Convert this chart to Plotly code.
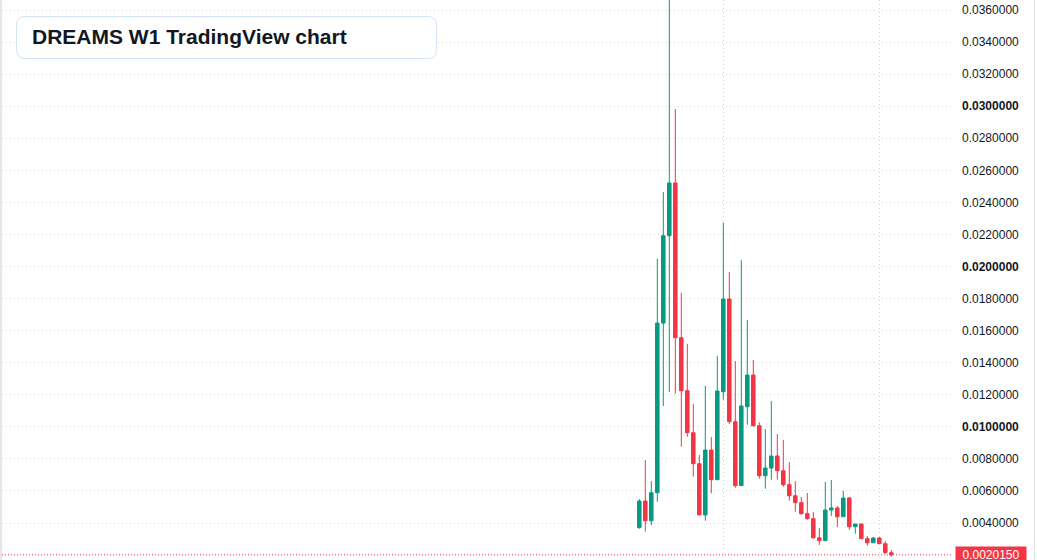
import plotly.graph_objects as go

# Weekly candles (index = week number)
weeks = list(range(43))
opens = [0.00371, 0.00537, 0.00414, 0.00589, 0.01647, 0.02192, 0.02521, 0.01556, 0.01225, 0.00963,
         0.00770, 0.00450, 0.00855, 0.00670, 0.01219, 0.01797, 0.01032, 0.00633, 0.01125, 0.01323,
         0.01007, 0.00695, 0.00743, 0.00818, 0.00726, 0.00639, 0.00570, 0.00527, 0.00458, 0.00427,
         0.00308, 0.00290, 0.00481, 0.00494, 0.00439, 0.00556, 0.00377, 0.00394, 0.00302, 0.00277,
         0.00306, 0.00271, 0.00215]
highs = [0.00550, 0.00793, 0.00662, 0.02049, 0.02465, 0.03800, 0.02982, 0.01835, 0.01517, 0.01142,
         0.00824, 0.01255, 0.00936, 0.01442, 0.02273, 0.01966, 0.01410, 0.02040, 0.01666, 0.01417,
         0.01028, 0.00986, 0.01161, 0.00955, 0.00918, 0.00780, 0.00662, 0.00562, 0.00587, 0.00469,
         0.00369, 0.00656, 0.00668, 0.00506, 0.00600, 0.00562, 0.00394, 0.00394, 0.00319, 0.00313,
         0.00313, 0.00288, 0.00232]
lows = [0.00364, 0.00346, 0.00387, 0.00533, 0.01130, 0.01217, 0.01207, 0.00876, 0.00938, 0.00689,
        0.00450, 0.00414, 0.00585, 0.00670, 0.01169, 0.01016, 0.00620, 0.00633, 0.01013, 0.01001,
        0.00676, 0.00614, 0.00670, 0.00670, 0.00626, 0.00539, 0.00470, 0.00452, 0.00420, 0.00302,
        0.00263, 0.00290, 0.00444, 0.00375, 0.00439, 0.00358, 0.00333, 0.00302, 0.00259, 0.00277,
        0.00271, 0.00208, 0.00190]
closes = [0.00537, 0.00414, 0.00589, 0.01647, 0.02192, 0.02521, 0.01556, 0.01225, 0.00963, 0.00770,
          0.00450, 0.00855, 0.00670, 0.01223, 0.01797, 0.01032, 0.00633, 0.01130, 0.01323, 0.01007,
          0.00695, 0.00743, 0.00818, 0.00726, 0.00639, 0.00570, 0.00527, 0.00458, 0.00427, 0.00308,
          0.00290, 0.00481, 0.00494, 0.00439, 0.00556, 0.00377, 0.00394, 0.00302, 0.00277, 0.00306,
          0.00271, 0.00215, 0.002015]

last_price = 0.002015
last_label = "0.0020150"
tick_values = [0.004, 0.006, 0.008, 0.010, 0.012, 0.014, 0.016, 0.018, 0.020, 0.022,
               0.024, 0.026, 0.028, 0.030, 0.032, 0.034, 0.036]
bold_ticks = [0.010, 0.020, 0.030]
time_grid = [14, 40]
title_text = "DREAMS W1 TradingView chart"

UP = "#089981"
DOWN = "#F23645"
W, H = 1037, 560
ML, MR = 2, 85
PW = W - ML - MR

def px(x):
    return (x - ML) / PW

def py(y):
    return 1 - y / H

tick_text = []
for v in tick_values:
    s = f"{v:.7f}"
    if any(abs(v - b) < 1e-9 for b in bold_ticks):
        s = f"<b>{s}</b>"
    tick_text.append(s)

fig = go.Figure()
fig.add_trace(go.Candlestick(
    x=weeks, open=opens, high=highs, low=lows, close=closes,
    increasing=dict(line=dict(color=UP, width=1), fillcolor=UP),
    decreasing=dict(line=dict(color=DOWN, width=1), fillcolor=DOWN),
    whiskerwidth=0, hoverinfo="skip", showlegend=False,
))

a = -(639.3 - ML) / 6.0
b = a + PW / 6.0

fig.update_layout(
    width=W, height=H,
    margin=dict(l=ML, r=MR, t=0, b=0),
    paper_bgcolor="white", plot_bgcolor="white",
    boxgap=0.16,
    xaxis=dict(range=[a, b], rangeslider=dict(visible=False), showticklabels=False,
               tickvals=time_grid, showgrid=True, gridcolor="#d4d4d4", griddash="1px,3px",
               gridwidth=1, zeroline=False, showline=False, ticks=""),
    yaxis=dict(range=[0.001692, 0.0366238], side="right", tickvals=tick_values,
               ticktext=tick_text, showgrid=True, gridcolor="#d4d4d4", griddash="1px,3px",
               gridwidth=1, zeroline=False, showline=False, ticks="", ticklabelstandoff=9,
               tickfont=dict(family="Liberation Sans, Arial, sans-serif", size=12, color="#131722")),
    font=dict(family="Liberation Sans, Arial, sans-serif"),
)

# last price dotted line
fig.add_shape(type="line", xref="paper", yref="y", x0=0, x1=1, y0=last_price, y1=last_price,
              line=dict(color=DOWN, width=1, dash="1px,2px"))

# left gray edge and right border
fig.add_shape(type="rect", xref="paper", yref="paper", x0=px(0), x1=px(2), y0=0, y1=1,
              fillcolor="#e6e6e6", line=dict(width=0), layer="above")
fig.add_shape(type="line", xref="paper", yref="paper", x0=px(1034.5), x1=px(1034.5), y0=0, y1=1,
              line=dict(color="#e3e3e3", width=1), layer="above")

# title box (rounded)
x0, x1, y0, y1, r = 16.5, 436.5, 16.5, 58.5, 9
rx, ry = r / PW, r / H
X0, X1, Y0, Y1 = px(x0), px(x1), py(y0), py(y1)
path = (f"M {X0+rx},{Y0} L {X1-rx},{Y0} Q {X1},{Y0} {X1},{Y0-ry} "
        f"L {X1},{Y1+ry} Q {X1},{Y1} {X1-rx},{Y1} L {X0+rx},{Y1} Q {X0},{Y1} {X0},{Y1+ry} "
        f"L {X0},{Y0-ry} Q {X0},{Y0} {X0+rx},{Y0} Z")
fig.add_shape(type="path", xref="paper", yref="paper", path=path,
              fillcolor="white", line=dict(color="#d3e2f6", width=1), layer="above")
fig.add_annotation(xref="paper", yref="paper", x=px(30), y=py(37), xanchor="left", yanchor="middle",
                   text=f"<b>{title_text}</b>", showarrow=False,
                   font=dict(family="Liberation Sans, Arial, sans-serif", size=21, color="#131722"))

# last price label
fig.add_annotation(xref="paper", yref="y", x=px(955), y=last_price, xanchor="left", yanchor="middle",
                   text=last_label, showarrow=False, bgcolor=DOWN, borderpad=2, width=66, height=12,
                   font=dict(family="Liberation Sans, Arial, sans-serif", size=12, color="white"))

fig.write_html("out.html", config={"displayModeBar": False})
